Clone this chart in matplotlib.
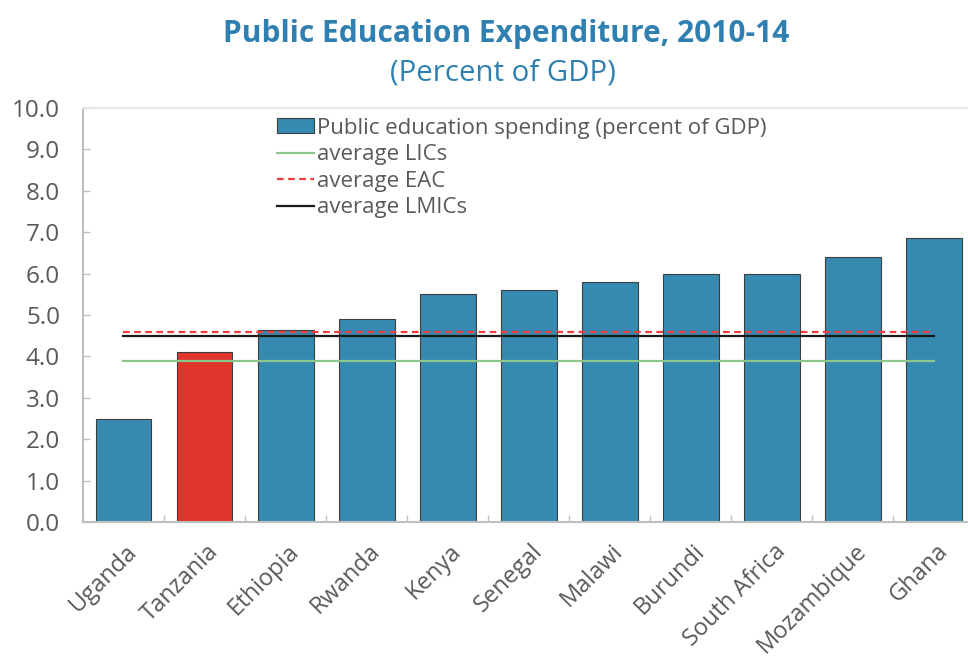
import matplotlib
matplotlib.use("Agg")
import matplotlib.pyplot as plt
import numpy as np

countries = ["Uganda", "Tanzania", "Ethiopia", "Rwanda", "Kenya", "Senegal",
             "Malawi", "Burundi", "South Africa", "Mozambique", "Ghana"]
spending = [2.5, 4.1, 4.65, 4.9, 5.5, 5.6, 5.8, 6.0, 6.0, 6.4, 6.85]
avg_lics = 3.9
avg_eac = 4.6
avg_lmics = 4.5
highlight = "Tanzania"

BLUE = "#378aaf"
RED = "#e0352b"
TEXT = "#595959"
TITLE_BLUE = "#2f80b0"
AXIS = "#bfbfbf"

plt.rcParams["font.family"] = ["Open Sans", "DejaVu Sans"]

fig = plt.figure(figsize=(9.68, 6.57), dpi=100)
ax = fig.add_axes([0.0857, 0.2055, 0.9210, 0.6300])

x = np.arange(len(countries))
colors = [RED if c == highlight else BLUE for c in countries]
bars = ax.bar(x, spending, width=0.69, color=colors, edgecolor="#3d3d3d",
              linewidth=0.8, zorder=2,
              label="Public education spending (percent of GDP)")

l_lics, = ax.plot([x[0], x[-1]], [avg_lics] * 2, color="#8cc68c", lw=1.6,
                  zorder=3, label="average LICs")
l_eac, = ax.plot([x[0], x[-1]], [avg_eac] * 2, color="#f03c3c", lw=1.6,
                 ls=(0, (3, 2)), zorder=3, label="average EAC")
l_lmics, = ax.plot([x[0], x[-1]], [avg_lmics] * 2, color="#1a1a1a", lw=1.6,
                   zorder=3, label="average LMICs")

ax.set_xlim(-0.5, len(countries) - 0.5)
ax.set_ylim(0, 10)
yt = np.arange(0, 10.1, 1.0)
ax.set_yticks(yt)
ax.set_yticklabels([f"{v:.1f}" for v in yt], fontsize=17.5, color=TEXT)

# ticks mark the category boundaries; names go under the bar centres
ax.set_xticks(np.arange(-0.5, len(countries) - 0.4, 1.0))
ax.set_xticklabels([])
ax.tick_params(axis="x", direction="in", length=5, color=AXIS, width=1)
ax.tick_params(axis="y", direction="in", length=5, color=AXIS, width=1, pad=16.5)
for xi, name in zip(x, countries):
    ax.text(xi + 0.02, -0.42, name, rotation=45, ha="right", va="top",
            rotation_mode="anchor", fontsize=17, color=TEXT)

for side in ("left", "bottom"):
    ax.spines[side].set_color(AXIS)
    ax.spines[side].set_linewidth(1.5)
ax.spines["top"].set_color("#e6e6e6")
ax.spines["top"].set_linewidth(1.5)
ax.spines["right"].set_visible(False)

leg = ax.legend(handles=[bars, l_lics, l_eac, l_lmics], loc="upper left",
                bbox_to_anchor=(0.198, 1.02), frameon=False, fontsize=16,
                handlelength=1.65, handleheight=0.65, handletextpad=0.15,
                labelspacing=0.25, borderpad=0.3)
for t in leg.get_texts():
    t.set_color(TEXT)

fig.text(0.523, 0.948, "Public Education Expenditure, 2010-14", ha="center",
         va="center", fontsize=21.5, fontweight="bold", color=TITLE_BLUE)
fig.text(0.520, 0.889, "(Percent of GDP)", ha="center", va="center",
         fontsize=21.2, color=TITLE_BLUE)

fig.savefig("out.png", dpi=100)
